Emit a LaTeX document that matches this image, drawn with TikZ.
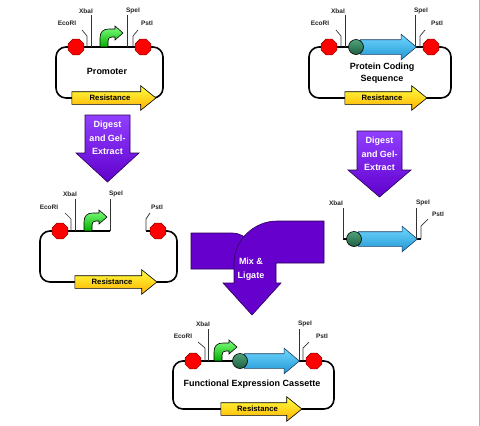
\documentclass[tikz,border=0pt]{standalone}
\usepackage{fontspec}
\setmainfont{Liberation Sans}
\usepackage{xcolor}
\usepackage{tikz}
\usetikzlibrary{shapes.arrows, shapes.geometric, positioning}

\definecolor{siteRed}{HTML}{FF0000}
\definecolor{resTop}{HTML}{FFFF40}
\definecolor{resBot}{HTML}{FFB000}
\definecolor{cdsTop}{HTML}{70D8FF}
\definecolor{cdsBot}{HTML}{2196D3}
\definecolor{cdsLine}{HTML}{1F3F66}
\definecolor{rbsTop}{HTML}{4FA37A}
\definecolor{rbsBot}{HTML}{1E5E40}
\definecolor{proTop}{HTML}{80FF80}
\definecolor{proBot}{HTML}{00B000}
\definecolor{mixPurple}{HTML}{6600CC}
\definecolor{digTop}{HTML}{9140FF}
\definecolor{digBot}{HTML}{6000CC}
\definecolor{flowLine}{HTML}{2A0055}

\begin{document}
\begin{tikzpicture}[
    x=1pt, y=-1pt,
    % plasmid backbone and cut sites
    backbone/.style={line width=1.6pt, rounded corners=10pt},
    cutsite/.style={regular polygon, regular polygon sides=8, minimum size=17pt, inner sep=0pt,
        fill=siteRed, draw=siteRed!55!black, line width=0.5pt},
    rbs/.style={circle, minimum size=15pt, inner sep=0pt, draw=black, line width=0.6pt,
        top color=rbsTop, bottom color=rbsBot},
    enz/.style={font=\bfseries\fontsize{6.5}{7}\selectfont, text=black!85, inner sep=0.5pt},
    tick/.style={line width=0.7pt, black!80},
    % parts drawn as arrows
    resist/.style={single arrow, single arrow head extend=6pt, single arrow tip angle=78,
        inner xsep=0pt, inner ysep=3pt, text height=5.5pt, text depth=0.5pt,
        top color=resTop, bottom color=resBot, draw=black, line width=0.6pt,
        font=\bfseries\fontsize{7.7}{8}\selectfont},
    cds/.style={single arrow, single arrow head extend=5.5pt, single arrow tip angle=80,
        inner xsep=0pt, inner ysep=7pt, text height=0pt, text depth=0pt,
        top color=cdsTop, bottom color=cdsBot, draw=cdsLine, line width=0.6pt},
    promoter/.pic={
        \shade[top color=proTop, bottom color=proBot, draw=black, line width=0.6pt]
            (0,0) -- (0,-9) .. controls (0,-15) and (3,-18) .. (9,-18) -- (15,-18)
            -- (15,-21) -- (23,-14) -- (15,-7) -- (15,-10) -- (12,-10)
            .. controls (9.5,-10) and (8,-8.5) .. (8,-6) -- (8,0) -- cycle;
    },
    % process arrows
    digest/.style={draw=flowLine, line width=0.6pt, top color=digTop, bottom color=digBot},
    flowtext/.style={text=white, font=\bfseries\fontsize{9}{13.5}\selectfont, align=center},
    title/.style={font=\bfseries\fontsize{9}{12}\selectfont, align=center}
]
\useasboundingbox (0,0) rectangle (480,426);
\draw[gray!60, line width=0.6pt] (479,0) -- (479,426);

% Promoter plasmid (top left)
\draw[backbone] (56,47) rectangle (163,98);
\node[resist, minimum height=84pt] (res1) at (110,98) {Resistance};
\node[title] (prom) at (107,71) {Promoter};
\node[enz] (eco1) at (67,23) {EcoRI};
\node[enz] (xba1) at (86,11) {XbaI};
\node[enz] (spe1) at (133,11) {SpeI};
\node[enz] (pst1) at (147,23) {PstI};
\draw[tick] (82,30) -- (87,36) -- (87,47);
\draw[tick] (91,15) -- (91,47);
\draw[tick] (127,15) -- (127,47);
\draw[tick] (138,30) -- (133,36) -- (133,47);
\pic (p1) at (100,47) {promoter};
\node[cutsite] (c1a) at (76,47) {};
\node[cutsite] (c1b) at (143,47) {};

% Coding sequence plasmid (top right)
\draw[backbone] (309,47) rectangle (451,98);
\node[resist, minimum height=82pt] (res2) at (382,98) {Resistance};
\node[title] (pcs) at (382,73) {Protein Coding\\Sequence};
\node[enz] (eco2) at (320,23) {EcoRI};
\node[enz] (xba2) at (338,11) {XbaI};
\node[enz] (spe2) at (421,11) {SpeI};
\node[enz] (pst2) at (437,23) {PstI};
\draw[tick] (336,30) -- (341,36) -- (341,47);
\draw[tick] (345,15) -- (345,47);
\draw[tick] (415,15) -- (415,47);
\draw[tick] (425,30) -- (420,36) -- (420,47);
\node[cds, minimum height=56pt] (cds2) at (384,47) {};
\node[rbs] (rbs2) at (356,47) {};
\node[cutsite] (c2a) at (329,47) {};
\node[cutsite] (c2b) at (431,47) {};

% Digest arrows
\draw[digest] (85,115) -- (130,115) -- (130,153) -- (139,153) -- (107.5,182)
    -- (76,153) -- (85,153) -- cycle;
\node[flowtext] (dig1) at (107.5,138) {Digest\\and Gel-\\Extract};
\draw[digest] (357,131) -- (402,131) -- (402,170) -- (411,170) -- (379.5,197)
    -- (348,170) -- (357,170) -- cycle;
\node[flowtext] (dig2) at (379.5,154) {Digest\\and Gel-\\Extract};

% Opened vector (middle left)
\draw[backbone] (110,231) -- (40,231) -- (40,282) -- (177,282) -- (177,231) -- (146,231);
\node[resist, minimum height=82pt] (res3) at (112,282) {Resistance};
\node[enz] (eco3) at (49,207) {EcoRI};
\node[enz] (xba3) at (70,194) {XbaI};
\node[enz] (spe3) at (116,194) {SpeI};
\node[enz] (pst3) at (157,207) {PstI};
\draw[tick] (65,213) -- (71,219) -- (71,231);
\draw[tick] (75,199) -- (75,231);
\draw[tick] (110,199) -- (110,231);
\draw[tick] (150,213) -- (146,219) -- (146,231);
\pic (p3) at (84,231) {promoter};
\node[cutsite] (c3a) at (60,231) {};
\node[cutsite] (c3b) at (158,231) {};

% Insert fragment (middle right)
\draw[line width=1.6pt] (343,239) -- (354,239);
\draw[line width=1.6pt] (412,239) -- (421,239);
\node[enz] (xba4) at (336,203) {XbaI};
\node[enz] (spe4) at (423,203) {SpeI};
\node[enz] (pst4) at (438,214) {PstI};
\draw[tick] (343,208) -- (343,239);
\draw[tick] (416,208) -- (416,239);
\draw[tick] (428,219) -- (421,226) -- (421,239);
\node[cds, minimum height=59pt] (cds4) at (383.5,239) {};
\node[rbs] (rbs4) at (354,239) {};

% Mix & Ligate arrow
\fill[mixPurple, draw=flowLine, line width=0.6pt] (191,233) -- (232,233)
    .. controls (240,233) and (246,237) .. (250,242) -- (250,269) -- (191,269) -- cycle;
\fill[mixPurple, draw=flowLine, line width=0.6pt] (324,221) -- (277,221)
    .. controls (254,221) and (234,240) .. (234,263) -- (234,283) -- (223,283)
    -- (252,315) -- (281,283) -- (276,283) -- (276,263) -- (324,263) -- cycle;
\node[flowtext] (mix) at (251,269) {Mix \&\\Ligate};

% Final cassette (bottom)
\draw[backbone] (173,361) rectangle (334,409);
\node[resist, minimum height=81pt] (res5) at (257.5,409) {Resistance};
\node[title] (fec) at (252,384) {Functional Expression Cassette};
\node[enz] (eco5) at (183,336) {EcoRI};
\node[enz] (xba5) at (203,324) {XbaI};
\node[enz] (spe5) at (305,324) {SpeI};
\node[enz] (pst5) at (322,336) {PstI};
\draw[tick] (198,342) -- (205,348) -- (205,361);
\draw[tick] (208,329) -- (208,361);
\draw[tick] (299,329) -- (299,361);
\draw[tick] (309,342) -- (303,348) -- (303,361);
\pic (p5) at (214,361) {promoter};
\node[cds, minimum height=55pt] (cds5) at (267.5,361) {};
\node[rbs] (rbs5) at (240,361) {};
\node[cutsite] (c5a) at (193,361) {};
\node[cutsite] (c5b) at (314,361) {};

\end{tikzpicture}
\end{document}
